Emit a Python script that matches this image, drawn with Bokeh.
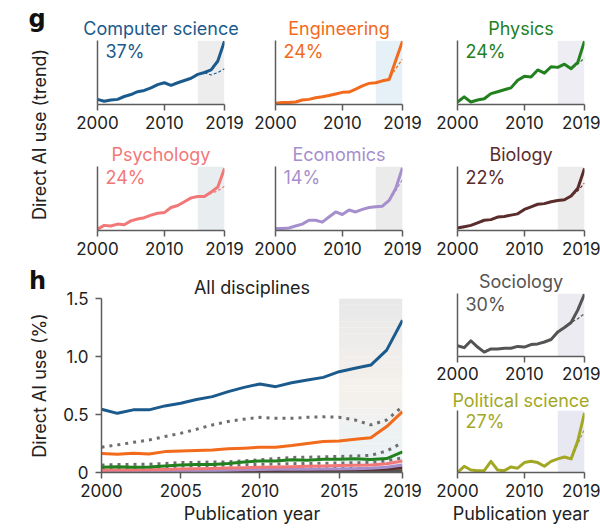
import numpy as np
from bokeh.plotting import figure
from bokeh.models import Range1d, FixedTicker, Label, BoxAnnotation
from bokeh.layouts import row, column
from bokeh.embed import file_html
from bokeh.resources import INLINE

FONT = "Inter"
TXT = "#222222"
AXIS = "#5c5c5c"
FS = "18px"      # titles, percentages, axis titles
FS_TICK = "17px"

# ---------------- data ----------------
years = list(range(2000, 2020))
proj_years = [2016, 2017, 2018, 2019]
shade_start, shade_end = 2015, 2019
small_ticks = [2000, 2010, 2019]
h_xticks = [2000, 2005, 2010, 2015, 2019]
h_yticks = [0, 0.5, 1.0, 1.5]
h_ytick_labels = ["0", "0.5", "1.0", "1.5"]

names = ["Computer science", "Engineering", "Physics", "Psychology",
         "Economics", "Biology", "Sociology", "Political science"]
pct = ["37%", "24%", "24%", "24%", "14%", "22%", "30%", "27%"]
line_colors = ["#1b5a8c", "#f26a1b", "#23801f", "#f27878",
               "#a68fcd", "#5b2c2c", "#545454", "#a3a824"]
shade_colors = ["#ededed", "#e5f0f7", "#efedf4", "#e8eef0",
                "#ebebeb", "#ececec", "#ebebf1", "#e8e8f2"]

# normalised trend of direct AI use (small panels, 0 = bottom, 1 = top)
trend_cs = [0.08, 0.05, 0.07, 0.08, 0.125, 0.156, 0.20, 0.22, 0.26, 0.31,
            0.34, 0.30, 0.34, 0.375, 0.41, 0.47, 0.50, 0.54, 0.68, 0.99]
trend_eng = [0.02, 0.03, 0.03, 0.04, 0.07, 0.08, 0.105, 0.12, 0.14, 0.165,
             0.19, 0.195, 0.24, 0.29, 0.33, 0.34, 0.37, 0.39, 0.69, 0.99]
trend_phys = [0.04, 0.12, 0.04, 0.07, 0.09, 0.17, 0.20, 0.23, 0.26, 0.38,
              0.44, 0.43, 0.54, 0.49, 0.59, 0.58, 0.63, 0.56, 0.66, 0.99]
trend_psy = [0.02, 0.08, 0.07, 0.10, 0.09, 0.15, 0.18, 0.20, 0.24, 0.27,
             0.28, 0.36, 0.39, 0.45, 0.51, 0.53, 0.53, 0.60, 0.68, 0.97]
trend_econ = [0.03, 0.03, 0.04, 0.07, 0.10, 0.16, 0.16, 0.13, 0.21, 0.29,
              0.25, 0.32, 0.29, 0.33, 0.36, 0.37, 0.38, 0.47, 0.66, 0.98]
trend_bio = [0.04, 0.06, 0.08, 0.12, 0.16, 0.17, 0.21, 0.22, 0.24, 0.26,
             0.33, 0.37, 0.41, 0.42, 0.45, 0.47, 0.48, 0.54, 0.66, 0.97]
trend_soc = [0.17, 0.14, 0.25, 0.15, 0.07, 0.12, 0.12, 0.13, 0.13, 0.16,
             0.15, 0.19, 0.20, 0.23, 0.27, 0.39, 0.46, 0.54, 0.74, 0.99]
trend_pol = [0.00, 0.10, 0.04, 0.03, 0.03, 0.18, 0.04, 0.03, 0.09, 0.07,
             0.16, 0.18, 0.16, 0.10, 0.18, 0.22, 0.25, 0.22, 0.51, 0.96]

# dashed projection of the pre-2016 trend
proj_cs = [0.50, 0.46, 0.50, 0.56]
proj_eng = [0.37, 0.39, 0.56, 0.71]
proj_phys = [0.63, 0.56, 0.63, 0.73]
proj_psy = [0.53, 0.58, 0.62, 0.69]
proj_econ = [0.38, 0.47, 0.62, 0.80]
proj_bio = [0.48, 0.54, 0.62, 0.74]
proj_soc = [0.46, 0.54, 0.60, 0.68]
proj_pol = [0.25, 0.22, 0.46, 0.70]

trends = [trend_cs, trend_eng, trend_phys, trend_psy, trend_econ, trend_bio, trend_soc, trend_pol]
projs = [proj_cs, proj_eng, proj_phys, proj_psy, proj_econ, proj_bio, proj_soc, proj_pol]

# All disciplines: direct AI use (%)
h_cs = [0.545, 0.51, 0.54, 0.54, 0.574, 0.597, 0.63, 0.654, 0.697, 0.734,
        0.763, 0.74, 0.774, 0.797, 0.82, 0.869, 0.898, 0.926, 1.055, 1.313]
h_eng = [0.163, 0.158, 0.166, 0.16, 0.18, 0.186, 0.19, 0.195, 0.204, 0.21,
         0.218, 0.218, 0.232, 0.25, 0.267, 0.272, 0.287, 0.30, 0.396, 0.525]
h_phys = [0.045, 0.05, 0.045, 0.048, 0.055, 0.065, 0.068, 0.07, 0.078, 0.09,
          0.10, 0.10, 0.11, 0.105, 0.115, 0.115, 0.118, 0.112, 0.12, 0.178]
h_psy = [0.02, 0.022, 0.022, 0.024, 0.026, 0.03, 0.032, 0.034, 0.038, 0.042,
         0.045, 0.048, 0.05, 0.053, 0.056, 0.06, 0.062, 0.065, 0.075, 0.10]
h_econ = [0.01, 0.01, 0.012, 0.013, 0.015, 0.017, 0.018, 0.018, 0.02, 0.023,
          0.025, 0.027, 0.028, 0.029, 0.03, 0.031, 0.033, 0.036, 0.045, 0.065]
h_bio = [0.008, 0.009, 0.01, 0.011, 0.012, 0.013, 0.014, 0.015, 0.016, 0.017,
         0.019, 0.02, 0.021, 0.022, 0.023, 0.024, 0.025, 0.027, 0.031, 0.04]
h_soc = [0.005, 0.005, 0.006, 0.005, 0.005, 0.005, 0.005, 0.005, 0.005, 0.006,
         0.006, 0.006, 0.006, 0.007, 0.007, 0.008, 0.009, 0.01, 0.012, 0.015]
h_pol = [0.003, 0.003, 0.003, 0.003, 0.003, 0.004, 0.003, 0.003, 0.004, 0.004,
         0.004, 0.005, 0.005, 0.005, 0.005, 0.006, 0.006, 0.006, 0.008, 0.012]
h_dot_a = [0.218, 0.238, 0.26, 0.28, 0.31, 0.338, 0.373, 0.41, 0.44, 0.46,
           0.476, 0.467, 0.467, 0.476, 0.48, 0.476, 0.453, 0.41, 0.453, 0.568]
h_dot_b = [0.065, 0.068, 0.07, 0.072, 0.078, 0.085, 0.088, 0.09, 0.092, 0.10,
           0.11, 0.12, 0.13, 0.132, 0.135, 0.138, 0.142, 0.148, 0.185, 0.258]
h_dot_c = [0.04, 0.042, 0.044, 0.046, 0.05, 0.055, 0.058, 0.06, 0.063, 0.066,
           0.07, 0.073, 0.076, 0.078, 0.08, 0.082, 0.084, 0.086, 0.10, 0.126]
h_dot_d = [0.02, 0.021, 0.022, 0.022, 0.023, 0.024, 0.025, 0.026, 0.027, 0.028,
           0.029, 0.03, 0.031, 0.032, 0.033, 0.034, 0.035, 0.036, 0.04, 0.05]
h_lines = [h_cs, h_eng, h_phys, h_psy, h_econ, h_bio, h_soc, h_pol]
h_dots = [h_dot_d, h_dot_c, h_dot_b, h_dot_a]


def style_axes(p, xlabel=None, label_standoff=5):
    p.xgrid.visible = False
    p.ygrid.visible = False
    p.outline_line_color = None
    for ax in (p.xaxis, p.yaxis):
        ax.axis_line_color = AXIS
        ax.axis_line_width = 1.5
        ax.major_tick_line_color = AXIS
        ax.major_tick_line_width = 1.5
        ax.minor_tick_line_color = None
        ax.major_tick_in = 0
        ax.major_tick_out = 6
        ax.major_label_text_font = FONT
        ax.major_label_text_font_size = FS_TICK
        ax.major_label_text_color = TXT
        ax.axis_label_text_font = FONT
        ax.axis_label_text_font_size = FS
        ax.axis_label_text_font_style = "normal"
        ax.axis_label_text_color = TXT
    p.xaxis.major_label_standoff = label_standoff
    if xlabel:
        p.xaxis.axis_label = xlabel
        p.xaxis.axis_label_standoff = 3


def style_title(p, color, standoff):
    p.title.text_font = FONT
    p.title.text_font_size = FS
    p.title.text_font_style = "normal"
    p.title.text_color = color
    p.title.align = "center"
    p.title.standoff = standoff


def small_panel(i, w, h, left, right, top, bottom, xlabel=None, label_standoff=5, title_standoff=3):
    c = line_colors[i]
    p = figure(width=w, height=h, x_range=Range1d(2000, 2019), y_range=Range1d(0, 1),
               output_backend="svg", toolbar_location=None,
               min_border_left=left, min_border_right=right,
               min_border_top=top, min_border_bottom=bottom, title=names[i])
    p.add_layout(BoxAnnotation(left=shade_start, right=shade_end, fill_color=shade_colors[i],
                               fill_alpha=1.0, line_color=None, level="underlay"))
    p.line(years, trends[i], line_width=3, line_color=c, line_join="round")
    p.line(proj_years, projs[i], line_width=1.2, line_color=c, line_dash="3 2")
    style_title(p, c, title_standoff)
    p.add_layout(Label(x=2000, y=1, x_offset=8, y_offset=0, text=pct[i], text_baseline="top",
                       text_align="left", text_color=c, text_font=FONT, text_font_size=FS))
    style_axes(p, xlabel, label_standoff)
    p.xaxis.ticker = FixedTicker(ticks=small_ticks)
    p.yaxis.ticker = FixedTicker(ticks=[])
    return p


# ---------------- left strip: panel letters and shared y titles ----------------
H_TOTAL = 529
lf = figure(width=60, height=H_TOTAL, x_range=Range1d(0, 60), y_range=Range1d(0, H_TOTAL),
            x_axis_type=None, y_axis_type=None, output_backend="svg", toolbar_location=None,
            min_border=0)
lf.grid.visible = False
lf.outline_line_color = None
for txt, xx, yy in [("g", 36.5, H_TOTAL - 18), ("h", 37, H_TOTAL - 280)]:
    lf.add_layout(Label(x=xx, y=yy, text=txt, text_align="center", text_baseline="middle",
                        text_font="DejaVu Sans", text_font_style="bold", text_font_size="24px",
                        text_color="#111111"))
for txt, yy in [("Direct AI use (trend)", H_TOTAL - 134), ("Direct AI use (%)", H_TOTAL - 385)]:
    lf.add_layout(Label(x=38.5, y=yy, text=txt, angle=np.pi / 2, text_align="center",
                        text_baseline="middle", text_font=FONT, text_font_size=FS, text_color=TXT))

# ---------------- panel g ----------------
p_cs = small_panel(0, 190, 137, 37, 26, 40, 33)
p_eng = small_panel(1, 180, 137, 25, 28, 40, 33)
p_phys = small_panel(2, 170, 137, 27, 16, 40, 33)
p_psy = small_panel(3, 190, 125, 37, 26, 29, 32)
p_econ = small_panel(4, 180, 125, 25, 28, 29, 32)
p_bio = small_panel(5, 170, 125, 27, 16, 29, 32)

# ---------------- panel h ----------------
ph = figure(width=370, height=267, x_range=Range1d(2000, 2019), y_range=Range1d(0, 1.5),
            output_backend="svg", toolbar_location=None, title="All disciplines",
            min_border_left=37, min_border_right=28, min_border_top=36, min_border_bottom=57)
# vertical colour gradient of the shaded period
stops_y = [0.0, 0.7, 1.5]
stops_c = [(231, 242, 248), (245, 241, 236), (232, 232, 233)]
edges = np.linspace(0, 1.5, 31)
for b0, b1 in zip(edges[:-1], edges[1:]):
    ym = 0.5 * (b0 + b1)
    rgb = [int(round(np.interp(ym, stops_y, [s[k] for s in stops_c]))) for k in range(3)]
    ph.add_layout(BoxAnnotation(left=shade_start, right=shade_end, bottom=b0, top=b1,
                                fill_color="#%02x%02x%02x" % tuple(rgb), fill_alpha=1.0,
                                line_color=None, level="underlay"))
for d in h_dots:
    ph.line(years, d, line_width=3, line_color="#6f6f6f", line_dash="3 5")
for i in range(7, -1, -1):
    ph.line(years, h_lines[i], line_width=3, line_color=line_colors[i], line_join="round")
style_title(ph, TXT, 1)
style_axes(ph, "Publication year", label_standoff=5)
ph.xaxis.ticker = FixedTicker(ticks=h_xticks)
ph.yaxis.ticker = FixedTicker(ticks=h_yticks)
ph.yaxis.major_label_overrides = {t: s for t, s in zip(h_yticks, h_ytick_labels)}
ph.yaxis.major_label_standoff = 7

p_soc = small_panel(6, 170, 125, 27, 16, 31, 31, label_standoff=4)
p_pol = small_panel(7, 170, 142, 27, 16, 22, 57, xlabel="Publication year", label_standoff=5,
                    title_standoff=0)

right = column(row(p_cs, p_eng, p_phys), row(p_psy, p_econ, p_bio),
               row(ph, column(p_soc, p_pol)))
layout = row(lf, right)

open("out.html", "w").write(file_html(layout, INLINE))
